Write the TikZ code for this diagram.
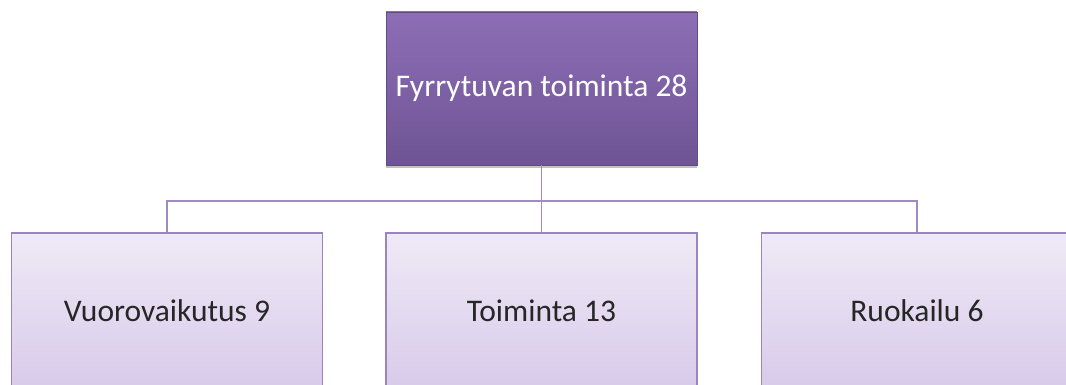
\documentclass[tikz,border=0pt]{standalone}
\usepackage{fontspec}
\setmainfont{Carlito}
\usetikzlibrary{shadows}
\definecolor{topA}{RGB}{141,110,182}
\definecolor{topB}{RGB}{110,84,148}
\definecolor{botA}{RGB}{239,234,246}
\definecolor{botB}{RGB}{216,202,234}
\definecolor{edgeC}{RGB}{155,132,194}
\definecolor{lineC}{RGB}{160,138,198}
\tikzset{
  x=1pt, y=1pt,
  headbox/.style={rectangle, minimum width=311pt, minimum height=153pt, inner sep=0pt,
    top color=topA, bottom color=topB, draw=topB!90!black, line width=0.6pt,
    text=white, font=\fontsize{31.5}{36}\selectfont,
    drop shadow={shadow xshift=0pt, shadow yshift=-3pt, opacity=0.35, fill=black!70}},
  childbox/.style={rectangle, minimum width=311pt, minimum height=155pt, inner sep=0pt,
    top color=botA, bottom color=botB, draw=edgeC, line width=1.5pt,
    text=black!85, font=\fontsize{31.5}{36}\selectfont},
  conn/.style={draw=lineC, line width=1.6pt}
}
\begin{document}
\begin{tikzpicture}
\useasboundingbox (0,0) rectangle (1066,-385);
\clip (0,0) rectangle (1066,-385);
\node[headbox] (top) at (541.5,-88.5) {Fyrrytuvan toiminta 28};
\node[childbox] (c1) at (167,-310.5) {Vuorovaikutus 9};
\node[childbox] (c2) at (541.5,-310.5) {Toiminta 13};
\node[childbox] (c3) at (917,-310.5) {Ruokailu 6};
\coordinate (bus) at (541.5,-201);
\draw[conn] (top.south) -- (c2.north);
\draw[conn] (c1.north) |- (bus) -| (c3.north);
\end{tikzpicture}
\end{document}
